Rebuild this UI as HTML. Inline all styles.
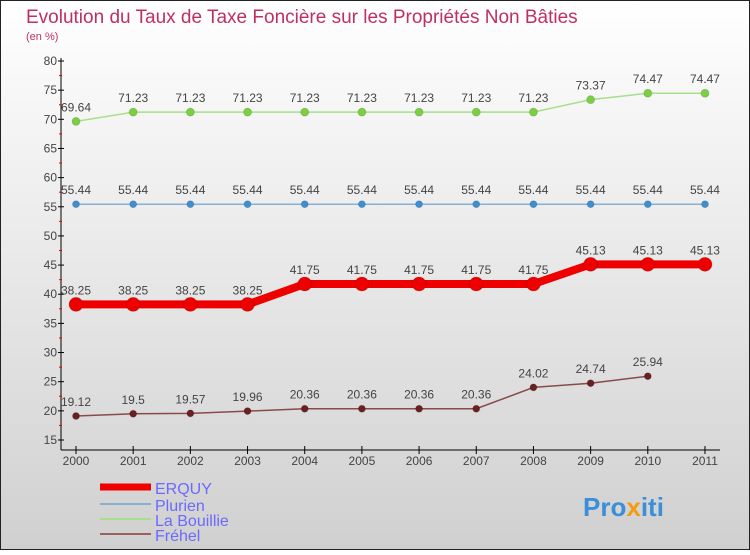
<!DOCTYPE html>
<html><head><meta charset="utf-8"><style>
body{margin:0;width:750px;height:550px;overflow:hidden;font-family:"Liberation Sans",sans-serif}
</style></head><body>
<svg width="750" height="550" xmlns="http://www.w3.org/2000/svg">
<defs><linearGradient id="bg" x1="0" y1="0" x2="0" y2="1"><stop offset="0" stop-color="#ffffff"/><stop offset="1" stop-color="#d0d0d0"/></linearGradient></defs>
<rect x="0.5" y="0.5" width="749" height="549" fill="url(#bg)" stroke="#222"/>
<text x="26" y="23" font-size="19" fill="#c0305f">Evolution du Taux de Taxe Foncière sur les Propriétés Non Bâties</text>
<text x="26" y="40" font-size="11" fill="#c0305f">(en %)</text>
<g id="axes"></g><g id="series"></g><g id="legend"></g>
<text x="583" y="516" font-size="26" font-weight="bold" fill="#3a8fd8">Pro<tspan fill="#f39c12">x</tspan><tspan fill="#3a8fd8">iti</tspan></text>
</svg>
<script>
const years=[2000,2001,2002,2003,2004,2005,2006,2007,2008,2009,2010,2011];
const yTicks=[15,20,25,30,35,40,45,50,55,60,65,70,75,80];
const erquy=[38.25,38.25,38.25,38.25,41.75,41.75,41.75,41.75,41.75,45.13,45.13,45.13];
const plurien=[55.44,55.44,55.44,55.44,55.44,55.44,55.44,55.44,55.44,55.44,55.44,55.44];
const bouillie=[69.64,71.23,71.23,71.23,71.23,71.23,71.23,71.23,71.23,73.37,74.47,74.47];
const frehel=[19.12,19.5,19.57,19.96,20.36,20.36,20.36,20.36,24.02,24.74,25.94,null];
const NS="http://www.w3.org/2000/svg";
const X=i=>76+i*57.18, Y=v=>440-(v-15)*(379/65);
function mk(tag,at,parent){const e=document.createElementNS(NS,tag);for(const k in at)e.setAttribute(k,at[k]);parent.appendChild(e);return e;}
const ax=document.getElementById('axes');
let l=mk('line',{x1:61,y1:58,x2:61,y2:450,stroke:'#000'},ax);

l=mk('line',{x1:61,y1:450,x2:720,y2:450,stroke:'#000'},ax);

yTicks.forEach(t=>{const y=Y(t);mk('line',{x1:58,y1:y,x2:64,y2:y,stroke:'#000'},ax);
 if(t<80)mk('line',{x1:59,y1:Y(t+2.5),x2:62,y2:Y(t+2.5),stroke:'#e00'},ax);
 const tx=mk('text',{x:57,y:y+4,'font-size':12,fill:'#444','text-anchor':'end'},ax);tx.textContent=t;
 });
years.forEach((yr,i)=>{const x=X(i);mk('line',{x1:x,y1:446,x2:x,y2:454,stroke:'#000'},ax);
 const tx=mk('text',{x:x,y:465,'font-size':12,fill:'#444','text-anchor':'middle'},ax);tx.textContent=yr;
 });
const sg=document.getElementById('series');
function series(vals,color,w,r,dot,name){
 const g=mk('g',{},sg);
 const pts=vals.map((v,i)=>v==null?null:[X(i),Y(v)]).filter(p=>p);
 mk('polyline',{points:pts.map(p=>p.join(',')).join(' '),fill:'none',stroke:color,'stroke-width':w},g);
 vals.forEach((v,i)=>{if(v==null)return;const c=mk('circle',{cx:X(i),cy:Y(v),r:r,fill:dot,stroke:'#0002'},g);
  
  const t=mk('text',{x:X(i),y:Y(v)-10,'font-size':12,fill:'#444','text-anchor':'middle'},g);t.textContent=v;
  });
}
series(bouillie,'#a6e08a',1.5,4,'#7ad040','la-bouillie');
series(plurien,'#88b0d0',1.5,3.5,'#3f8fd0','plurien');
series(erquy,'#ee0000',8,7,'#ee0000','erquy');
series(frehel,'#8a4a4a',1.5,3.5,'#6a2020','frehel');
const lg=document.getElementById('legend');
[['ERQUY','#ee0000',7,491],['Plurien','#88b0d0',2,508],['La Bouillie','#a6e08a',2,523],['Fréhel','#9a6060',2,538]].forEach(([n,c,w,y])=>{
 const g=mk('g',{},lg);
 mk('line',{x1:100,y1:y-4,x2:151,y2:y-4,stroke:c,'stroke-width':w},g);
 const t=mk('text',{x:155,y:y+3,'font-size':16,fill:'#6a6aff'},g);t.textContent=n;});
</script>
</body></html>
